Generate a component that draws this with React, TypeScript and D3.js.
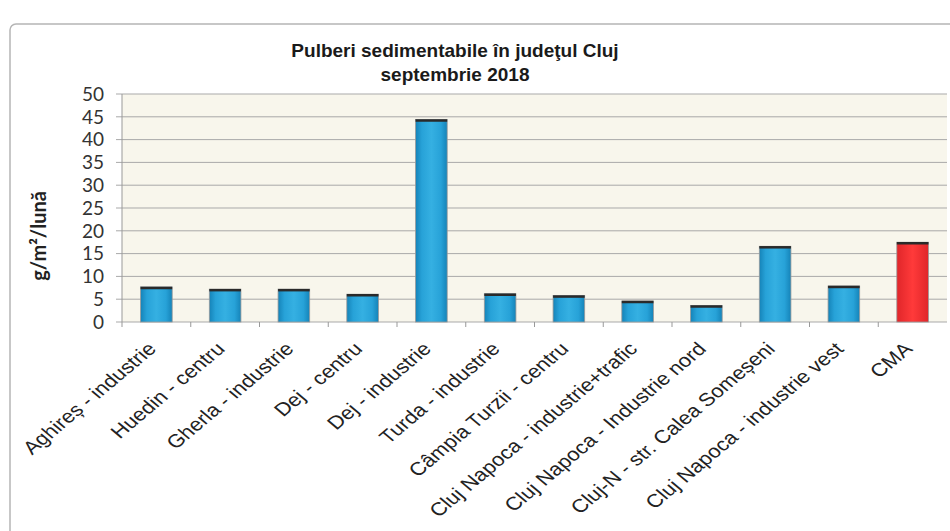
import React from "react";
import * as d3 from "d3";

const categories = [
  "Aghireș - industrie",
  "Huedin - centru",
  "Gherla - industrie",
  "Dej - centru",
  "Dej - industrie",
  "Turda - industrie",
  "Câmpia Turzii - centru",
  "Cluj Napoca - industrie+trafic",
  "Cluj Napoca - Industrie nord",
  "Cluj-N - str. Calea Someșeni",
  "Cluj Napoca - industrie vest",
  "CMA",
];
const values = [7.7, 7.2, 7.2, 6.1, 44.4, 6.2, 5.8, 4.6, 3.6, 16.6, 7.9, 17.5];
const yTicks = [0, 5, 10, 15, 20, 25, 30, 35, 40, 45, 50];
const titleLines = ["Pulberi sedimentabile în judeţul Cluj", "septembrie 2018"];
const yLabel = "g/m²/lună";

const W = 950;
const H = 531;
const plot = { left: 122, right: 947, top: 94, bottom: 322 };

export default function App() {
  const x = d3
    .scaleBand<string>()
    .domain(categories)
    .range([plot.left, plot.right])
    .paddingInner(0.54)
    .paddingOuter(0.27);
  const xTicks = d3.scaleBand<string>().domain(categories).range([plot.left, plot.right]);
  const y = d3.scaleLinear().domain([0, 50]).range([plot.bottom, plot.top]);

  return (
    <div style={{ position: "fixed", left: 0, top: 0 }}>
      <svg width={W} height={H} style={{ display: "block", background: "#fff" }}>
        <defs>
          <linearGradient id="blueGrad" x1="0" x2="1" y1="0" y2="0">
            <stop offset="0" stopColor="#1583b8" />
            <stop offset="0.2" stopColor="#27a2d8" />
            <stop offset="0.5" stopColor="#35b0e2" />
            <stop offset="0.8" stopColor="#27a2d8" />
            <stop offset="1" stopColor="#1583b8" />
          </linearGradient>
          <linearGradient id="redGrad" x1="0" x2="1" y1="0" y2="0">
            <stop offset="0" stopColor="#e0262a" />
            <stop offset="0.5" stopColor="#ff3a3a" />
            <stop offset="1" stopColor="#e0262a" />
          </linearGradient>
        </defs>
        {/* outer frame */}
        <rect x={10} y={24} width={960} height={530} rx={6} fill="#fff" stroke="#b5b5b5" strokeWidth={1.5} />
        {/* title */}
        <text
          x={455}
          y={57}
          textAnchor="middle"
          fontFamily="Liberation Sans, Arial, sans-serif"
          fontWeight="bold"
          fontSize={19}
          fill="#1a1a1a"
        >
          {titleLines[0]}
        </text>
        <text
          x={455}
          y={81}
          textAnchor="middle"
          fontFamily="Liberation Sans, Arial, sans-serif"
          fontWeight="bold"
          fontSize={19}
          fill="#1a1a1a"
        >
          {titleLines[1]}
        </text>
        {/* plot background */}
        <rect
          x={plot.left}
          y={plot.top}
          width={plot.right - plot.left}
          height={plot.bottom - plot.top}
          fill="#f8f6ec"
        />
        {/* gridlines */}
        {yTicks.map((t) => (
          <line
            key={t}
            x1={plot.left - 6}
            x2={plot.right}
            y1={y(t)}
            y2={y(t)}
            stroke="#a9a9a9"
            strokeWidth={1}
          />
        ))}
        {/* y tick labels */}
        {yTicks.map((t) => (
          <text
            key={"l" + t}
            x={104}
            y={y(t)}
            dy="0.36em"
            textAnchor="end"
            fontFamily="Lato, Open Sans, sans-serif"
            fontSize={19}
            fill="#333"
          >
            {t}
          </text>
        ))}
        {/* y axis */}
        <line x1={plot.left} x2={plot.left} y1={plot.top} y2={plot.bottom} stroke="#999" />
        {/* x tick marks */}
        {categories.map((c) => (
          <line
            key={"t" + c}
            x1={xTicks(c) as number}
            x2={xTicks(c) as number}
            y1={plot.bottom}
            y2={plot.bottom + 5}
            stroke="#999"
          />
        ))}
        {/* y axis title */}
        <text
          transform={`translate(46, 236) rotate(-90)`}
          textAnchor="middle"
          fontFamily="Lato, Open Sans, sans-serif"
          fontWeight="bold"
          fontSize={20}
          fill="#222"
        >
          {yLabel}
        </text>
        {/* bars */}
        {categories.map((c, i) => {
          const bx = x(c) as number;
          const bw = x.bandwidth();
          const top = y(values[i]);
          const isRed = c === "CMA";
          return (
            <g key={"b" + c}>
              <rect
                x={bx}
                y={top}
                width={bw}
                height={plot.bottom - top}
                fill={isRed ? "url(#redGrad)" : "url(#blueGrad)"}
                stroke="#9a9a9a"
                strokeWidth={0.8}
              />
              <line x1={bx} x2={bx + bw} y1={top + 1} y2={top + 1} stroke="#2a2a2a" strokeWidth={2.5} />
            </g>
          );
        })}
        {/* x labels */}
        {categories.map((c) => {
          const cx = (x(c) as number) + x.bandwidth() / 2;
          return (
            <text
              key={"x" + c}
              transform={`translate(${cx + 1}, ${plot.bottom + 28}) scale(1.19, 1) rotate(-45)`}
              textAnchor="end"
              fontFamily="Liberation Sans, Arial, sans-serif"
              fontSize={18.5}
              fill="#222"
            >
              {c}
            </text>
          );
        })}
      </svg>
    </div>
  );
}
